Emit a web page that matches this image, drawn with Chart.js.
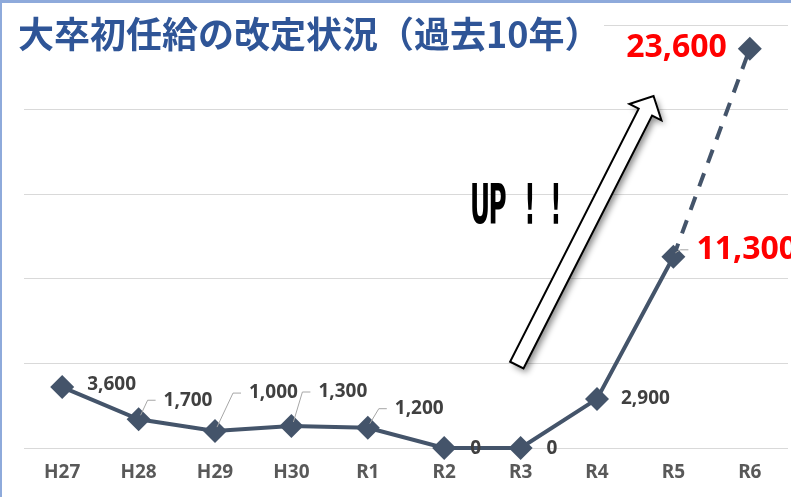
<!DOCTYPE html>
<html>
<head>
<meta charset="utf-8">
<script src="https://cdn.jsdelivr.net/npm/chart.js@4.4.1/dist/chart.umd.min.js"></script>
<style>
  html, body { margin: 0; padding: 0; background: #fff; }
  #wrap { position: relative; width: 791px; height: 497px; overflow: hidden; }
  #myChart { display: block; }
  #frame { position: absolute; left: 0; top: 0; right: 0; bottom: 0; border-top: 3px solid #8eaadb; border-left: 2px solid #8eaadb; pointer-events: none; }
  #title { position: absolute; left: 14px; top: 10px; padding: 0 4px; background: #fff; font: bold 36px "Noto Sans CJK JP"; line-height: 44px; color: #2f5597; white-space: nowrap; }
</style>
</head>
<body>
<div id="wrap">
  <canvas id="myChart" width="791" height="497"></canvas>
  <div id="title">大卒初任給の改定状況（過去10年）</div>
  <div id="frame"></div>
</div>
<script>
// years and starting-salary raise (yen)
var labels = ["H27", "H28", "H29", "H30", "R1", "R2", "R3", "R4", "R5", "R6"];
var raises = [3600, 1700, 1000, 1300, 1200, 0, 0, 2900, 11300, 23600];
var yTicks = [0, 5000, 10000, 15000, 20000, 25000];

// label placement relative to each point
var labelDx = [25, 25, 34, 27, 27, 26, 26, 24, 23, -23];
var labelDy = [-2, -19, -38, -34, -19, 1, 1, 0, -7, -1];
var leader = [false, true, true, true, true, false, false, false, true, false];
var highlight = [false, false, false, false, false, false, false, false, true, true];

var lineColor = "#44546a";

var labelPlugin = {
  id: "pointLabels",
  afterDatasetsDraw: function (chart) {
    var c = chart.ctx;
    var pts = chart.getDatasetMeta(0).data;
    pts.forEach(function (p, i) {
      var tx = p.x + labelDx[i];
      var ty = p.y + labelDy[i];
      if (leader[i]) {
        c.save();
        c.strokeStyle = "#a6a6a6";
        c.lineWidth = 1;
        c.beginPath();
        c.moveTo(p.x + 2, p.y - 4);
        c.lineTo(tx - 16, ty);
        c.lineTo(tx - 8, ty);
        c.stroke();
        c.restore();
      }
      c.save();
      c.font = highlight[i] ? 'bold 32px "Noto Sans"' : 'bold 19px "Noto Sans"';
      c.fillStyle = highlight[i] ? "#ff0000" : "#404040";
      c.textAlign = labelDx[i] < 0 ? "right" : "left";
      c.textBaseline = "middle";
      c.fillText(raises[i].toLocaleString("en-US"), tx, ty);
      c.restore();
    });
  }
};

// "UP!!" arrow, given in scale units
var arrowFrom = { x: 5.95, y: 4900 };
var arrowTo = { x: 7.74, y: 20800 };

var arrowPlugin = {
  id: "upArrow",
  afterDraw: function (chart) {
    var c = chart.ctx;
    var xs = chart.scales.x, ys = chart.scales.y;
    var x0 = xs.getPixelForValue(arrowFrom.x), y0 = ys.getPixelForValue(arrowFrom.y);
    var x1 = xs.getPixelForValue(arrowTo.x), y1 = ys.getPixelForValue(arrowTo.y);
    var len = Math.hypot(x1 - x0, y1 - y0);
    var ux = (x1 - x0) / len, uy = (y1 - y0) / len;
    var nx = -uy, ny = ux;
    var w = 7.5, hw = 18, hl = 18;
    var bx = x1 - ux * hl, by = y1 - uy * hl;
    c.save();
    c.beginPath();
    c.moveTo(x0 + nx * w, y0 + ny * w);
    c.lineTo(bx + nx * w, by + ny * w);
    c.lineTo(bx + nx * hw, by + ny * hw);
    c.lineTo(x1, y1);
    c.lineTo(bx - nx * hw, by - ny * hw);
    c.lineTo(bx - nx * w, by - ny * w);
    c.lineTo(x0 - nx * w, y0 - ny * w);
    c.closePath();
    c.shadowColor = "rgba(0,0,0,0.45)";
    c.shadowBlur = 6;
    c.shadowOffsetX = 3;
    c.shadowOffsetY = 4;
    c.fillStyle = "#fff";
    c.fill();
    c.shadowColor = "transparent";
    c.lineWidth = 2;
    c.strokeStyle = "#000";
    c.stroke();
    c.restore();

    // text next to the arrow
    var chars = ["U", "P", "!", "!"];
    var cx = [480, 497.5, 530, 556];
    c.save();
    c.fillStyle = "#000";
    c.font = 'bold 55px "DejaVu Sans"';
    c.textAlign = "center";
    chars.forEach(function (ch, i) {
      c.save();
      c.translate(cx[i], 223);
      c.scale(0.45, 1);
      c.fillText(ch, 0, 0);
      c.restore();
    });
    c.restore();
  }
};

var ctx = document.getElementById("myChart").getContext("2d");
var myChart = new Chart(ctx, {
  type: "line",
  data: {
    labels: labels,
    datasets: [
      {
        data: raises,
        borderColor: lineColor,
        backgroundColor: lineColor,
        borderWidth: 4,
        borderCapStyle: "butt",
        pointStyle: "rectRot",
        pointRadius: 12,
        pointHoverRadius: 12,
        pointBorderWidth: 0,
        tension: 0,
        clip: false,
        segment: {
          borderDash: function (s) { return s.p1DataIndex === 9 ? [14, 11] : undefined; }
        }
      }
    ]
  },
  options: {
    responsive: false,
    animation: false,
    devicePixelRatio: 1,
    layout: { autoPadding: false, padding: { left: 24, right: 3, top: 25, bottom: 11 } },
    plugins: { legend: { display: false }, tooltip: { enabled: false }, title: { display: false } },
    scales: {
      x: {
        offset: true,
        grid: { display: false, drawTicks: false },
        border: { display: false },
        ticks: { color: "#595959", padding: 13, font: { family: "Noto Sans", weight: "bold", size: 19 } },
        afterFit: function (axis) { axis.height = 38; }
      },
      y: {
        min: 0,
        max: 25000,
        afterBuildTicks: function (axis) {
          axis.ticks = yTicks.map(function (v) { return { value: v }; });
        },
        ticks: { display: false },
        grid: { color: "#d9d9d9", lineWidth: 1, drawTicks: false },
        border: { display: false }
      }
    }
  },
  plugins: [labelPlugin, arrowPlugin]
});
</script>
</body>
</html>
